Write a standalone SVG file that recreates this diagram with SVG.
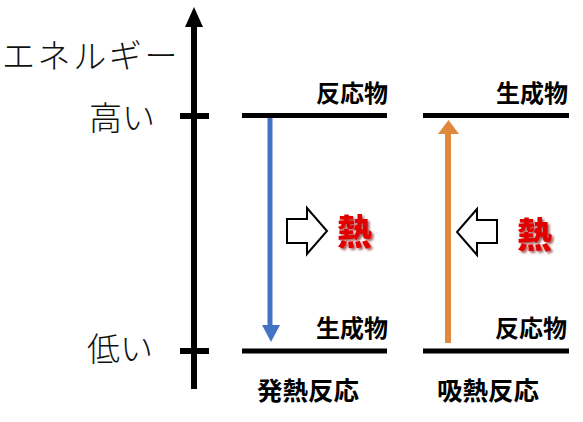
<svg xmlns="http://www.w3.org/2000/svg" width="583" height="422" viewBox="0 0 583 422">
<defs>
<style>
.axis{stroke:#000;stroke-width:6;fill:none}
.lvl{stroke:#000;stroke-width:5;fill:none}
.jl{font-family:"Noto Sans CJK JP","Noto Sans CJK SC",sans-serif;font-weight:300;font-size:33px;fill:#111}
.lab{font-family:"Noto Sans CJK JP","Noto Sans CJK SC",sans-serif;font-weight:700;font-size:24px;fill:#000;text-anchor:end}
.cap{font-family:"Noto Sans CJK JP","Noto Sans CJK SC",sans-serif;font-weight:700;font-size:25.5px;fill:#000}
.heat{font-family:"Noto Sans CJK JP","Noto Sans CJK SC",sans-serif;font-weight:900;font-size:35px;fill:#e00000}
.blk{fill:#fff;stroke:#000;stroke-width:2;stroke-linejoin:miter}
</style>
<filter id="sh" x="-20%" y="-20%" width="150%" height="150%">
<feDropShadow dx="2" dy="2" stdDeviation="1" flood-color="#700000" flood-opacity="0.6"/>
</filter>
</defs>

<g id="axis">
<line class="axis" x1="194" y1="24" x2="194" y2="389"/>
<path d="M185,27 L194,7 L203,27 Z" fill="#000"/>
<line class="axis" x1="180" y1="116" x2="209" y2="116"/>
<line class="axis" x1="180" y1="351" x2="209" y2="351"/>
<text class="jl" x="2" y="68" letter-spacing="2.6">エネルギー</text>
<text class="jl" x="89" y="130">高い</text>
<text class="jl" x="87" y="361">低い</text>
</g>

<g id="exo">
<line class="lvl" x1="242" y1="115.5" x2="387" y2="115.5"/>
<line class="lvl" x1="242" y1="351" x2="387" y2="351"/>
<text class="lab" x="388" y="102">反応物</text>
<text class="lab" x="388" y="337">生成物</text>
<text class="cap" x="257" y="400">発熱反応</text>
<path class="blk" d="M287,219 L307,219 L307,208 L327,231 L307,254 L307,243 L287,243 Z"/>
<text class="heat" x="337" y="245" filter="url(#sh)">熱</text>
</g>

<g id="endo">
<line class="lvl" x1="423" y1="115.5" x2="569" y2="115.5"/>
<line class="lvl" x1="423" y1="351" x2="569" y2="351"/>
<text class="lab" x="568" y="102">生成物</text>
<text class="lab" x="567" y="337">反応物</text>
<text class="cap" x="437" y="400">吸熱反応</text>
<path class="blk" d="M497,220 L477,220 L477,209 L457,232 L477,255 L477,243 L497,243 Z"/>
<text class="heat" x="517" y="248" filter="url(#sh)">熱</text>
</g>

<g id="connectors">
<line x1="270" y1="118" x2="270" y2="326" stroke="#4472c4" stroke-width="5"/>
<path d="M262,325 L280,325 L271,342 Z" fill="#4472c4"/>
<line x1="448" y1="343" x2="448" y2="132" stroke="#e0883e" stroke-width="6"/>
<path d="M438,134 L459,134 L448.5,120 Z" fill="#e0883e"/>
</g>
</svg>
